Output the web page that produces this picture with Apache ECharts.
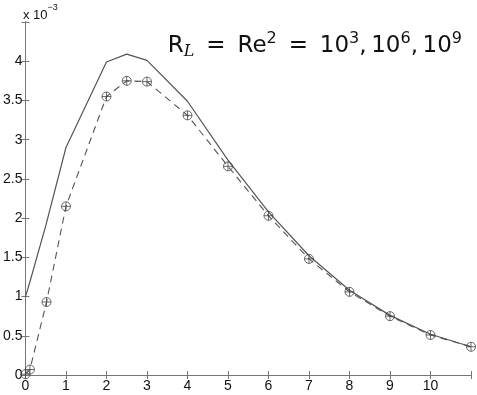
<!DOCTYPE html>
<html><head><meta charset="utf-8">
<script src="https://cdn.jsdelivr.net/npm/echarts@6/dist/echarts.min.js"></script>
<style>html,body{margin:0;padding:0;background:#fff;}#c{width:477px;height:395px;}</style>
</head><body><div id="c"></div>
<script>
const xTicks = [0,1,2,3,4,5,6,7,8,9,10];
const yTicks = [0,0.5,1,1.5,2,2.5,3,3.5,4];
const solidX = [0,0.1,0.5,1,2,2.5,3,4,5,6,7,8,9,10,11];
const solidY = [1.0,1.17,1.9,2.9,3.99,4.09,4.01,3.49,2.74,2.08,1.52,1.08,0.76,0.52,0.36];
const dashX = [0,0.11,0.52,1,2,2.5,3,4,5,6,7,8,9,10,11];
const dashY = [0.01,0.07,0.93,2.15,3.55,3.75,3.74,3.31,2.66,2.03,1.48,1.06,0.75,0.51,0.36];

const chart = echarts.init(document.getElementById('c'), null, {renderer:'canvas'});
const axisCol = '#777';
const font = 'Liberation Sans, Arial, sans-serif';
const sym = 'path://M10,0A10,10 0 1,1 10,20A10,10 0 1,1 10,0ZM0,10L20,10M10,0L10,20';
chart.setOption({
  animation:false,
  backgroundColor:'#fff',
  grid:{left:22,right:6,top:22,bottom:20},
  xAxis:[{
    type:'value',min:0,max:11,interval:1,
    axisLine:{lineStyle:{color:axisCol,width:1}},
    axisTick:{inside:true,length:4,lineStyle:{color:axisCol}},
    axisLabel:{color:'#111',fontSize:14,fontFamily:font,margin:4,
      formatter:v=>xTicks.includes(v)?String(v):''},
    splitLine:{show:false}
  },{
    type:'value',min:0,max:11,interval:1,position:'top',
    axisLine:{show:true,lineStyle:{color:axisCol}},
    axisTick:{inside:true,length:4,lineStyle:{color:axisCol}},
    axisLabel:{show:false},splitLine:{show:false}
  }],
  yAxis:[{
    type:'value',min:0,max:4.5,interval:0.5,
    axisLine:{show:true,lineStyle:{color:axisCol}},
    axisTick:{inside:true,length:4,lineStyle:{color:axisCol}},
    axisLabel:{color:'#111',fontSize:14,fontFamily:font,margin:3,
      formatter:v=>yTicks.includes(v)?String(v):''},
    splitLine:{show:false}
  },{
    type:'value',min:0,max:4.5,interval:0.5,position:'right',
    axisLine:{show:true,lineStyle:{color:axisCol}},
    axisTick:{inside:true,length:4,lineStyle:{color:axisCol}},
    axisLabel:{show:false},splitLine:{show:false}
  }],
  series:[{
    type:'line',data:solidX.map((x,i)=>[x,solidY[i]]),
    showSymbol:false,symbol:'none',
    lineStyle:{color:'#555',width:1.2,type:'solid'}
  },{
    type:'line',data:dashX.map((x,i)=>[x,dashY[i]]),
    symbol:sym,symbolSize:9,
    itemStyle:{color:'rgba(0,0,0,0)',borderColor:'#444',borderWidth:0.8},
    lineStyle:{color:'#555',width:1.1,type:[7,5]}
  }],
  graphic:[{
    type:'text',left:23,top:3,
    style:{text:'{a|x 10}{s|−3}',rich:{
      a:{fontSize:13,fontFamily:font,fill:'#111',verticalAlign:'bottom'},
      s:{fontSize:9,fontFamily:font,fill:'#111',verticalAlign:'top',padding:[0,0,10,0]}}}
  },{
    type:'text',right:15,top:31,
    style:{text:'{t|R}{sub|L}{t| \u2009=\u2009 Re}{sup|2}{t| \u2009=\u2009 10}{sup|3}{t|,\u200910}{sup|6}{t|,\u200910}{sup|9}',rich:{
      t:{fontSize:23,fontFamily:'DejaVu Sans',fill:'#111'},
      sub:{fontSize:16,fontFamily:'DejaVu Serif',fontStyle:'italic',fill:'#111',padding:[12,0,0,0]},
      sup:{fontSize:16,fontFamily:'DejaVu Sans',fill:'#111',padding:[0,0,14,0]}}}
  }]
});
</script></body></html>
